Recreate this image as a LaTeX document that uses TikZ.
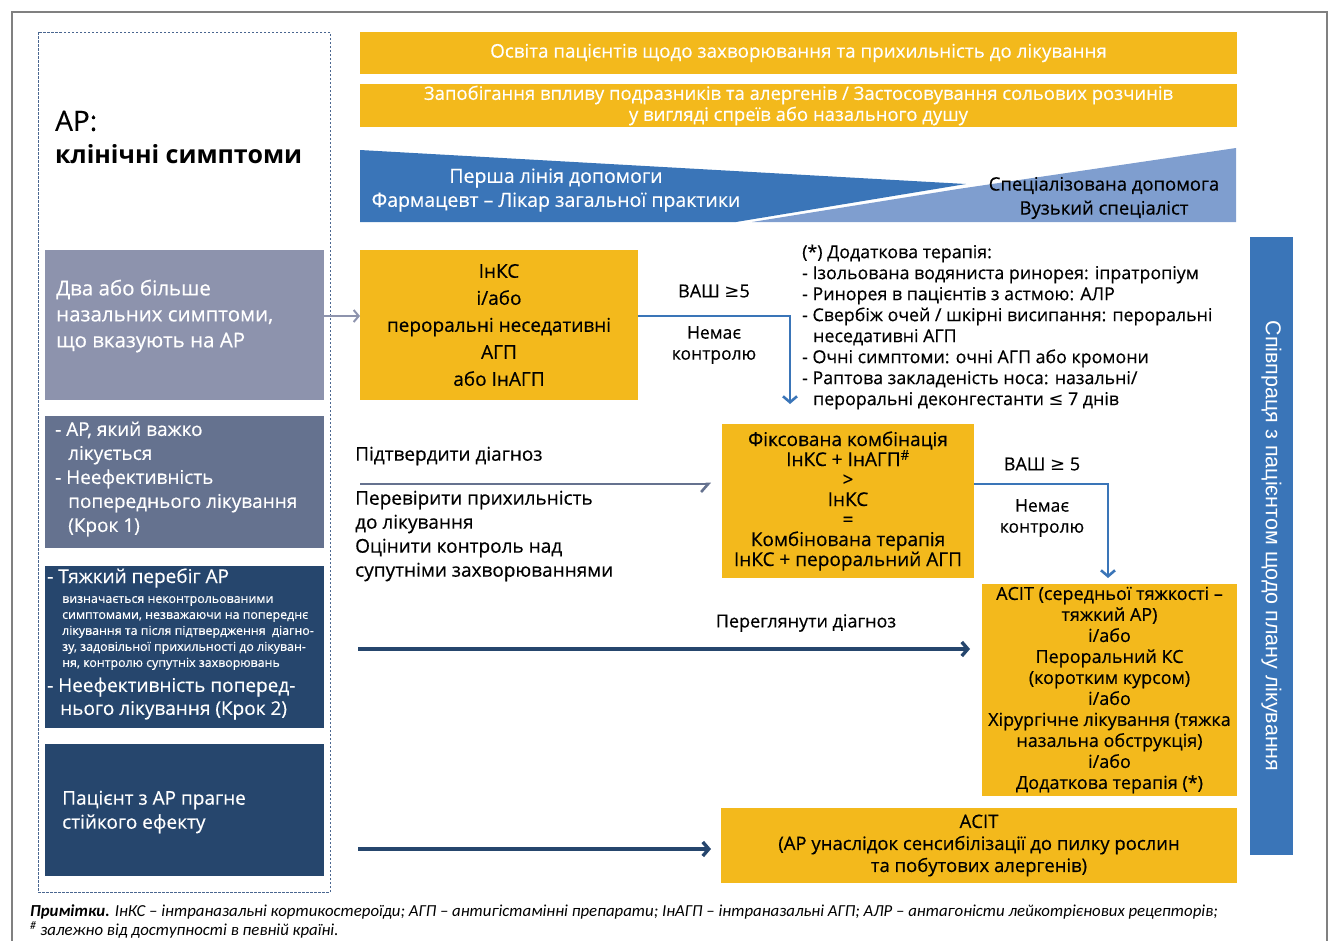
\documentclass[tikz,border=0pt]{standalone}
\usepackage{fontspec}
\setmainfont{Open Sans}[UprightFeatures={FakeBold=0.4}]
\newfontfamily\symfont{DejaVu Sans}
\newfontfamily\notefont{Carlito}
\newfontfamily\barfont{Liberation Sans}
\usetikzlibrary{arrows.meta}

\definecolor{framegray}{HTML}{808080}
\definecolor{dashblue}{HTML}{4A6690}
\definecolor{amber}{HTML}{F3B91C}
\definecolor{midblue}{HTML}{3A75B8}
\definecolor{paleblue}{HTML}{7F9ECF}
\definecolor{lavgray}{HTML}{8D93AD}
\definecolor{slate}{HTML}{65728F}
\definecolor{navy}{HTML}{26466D}

\newcommand{\fsz}[2]{\fontsize{#1}{#2}\selectfont}
\newcommand{\vge}{{\symfont ≥}}
\newcommand{\vle}{{\symfont ≤}}

\begin{document}
\begin{tikzpicture}[x=1pt,y=-1pt,
  panel/.style={anchor=north west, inner sep=0pt, outer sep=0pt},
  yelbox/.style={panel, fill=amber, align=center, text=black},
  sidetext/.style={anchor=west, inner sep=0pt, align=left, text=white},
  plain/.style={inner sep=0pt, align=center, text=black},
  chev/.style={-{Straight Barb[length=5pt,width=12pt]}},
  lavarrow/.style={chev, draw=lavgray, line width=2pt},
  bluelink/.style={-{Straight Barb[length=6pt,width=14pt]}, draw=midblue, line width=2.6pt},
  slatearrow/.style={-{Straight Barb[harpoon,swap,length=7pt,width=16pt]}, draw=slate, line width=2.6pt},
  navyarrow/.style={-{Straight Barb[length=6pt,width=14pt]}, draw=navy, line width=3.4pt},
]
\useasboundingbox (0,0) rectangle (1335,940);

% outer frame
\draw[framegray, line width=2pt] (12,960) -- (12,12) -- (1327,12) -- (1327,960);

% left dashed column
\node[panel, draw=dashblue, line width=1pt, dash pattern=on 2.5pt off 1.5pt,
      minimum width=292pt, minimum height=860pt] (column) at (38,32) {};
\node[anchor=west, inner sep=0pt, font=\fsz{28}{30}] (ttl) at (55,121) {АР:};
\node[anchor=west, inner sep=0pt, font=\fsz{25}{30}\bfseries] (ttl2) at (55,154) {клінічні симптоми};

% left boxes
\node[panel, fill=lavgray, minimum width=279pt, minimum height=150pt] (b1) at (45,250) {};
\node[sidetext, font=\fsz{20.5}{26}] (b1t) at (56,316)
  {Два або більше\\назальних симптоми,\\що вказують на АР};

\node[panel, fill=slate, minimum width=279pt, minimum height=132pt] (b2) at (45,416) {};
\node[sidetext, font=\fsz{19}{24}] (b2t) at (55,479)
  {- АР, який важко\\\hspace{13pt}лікується\\- Неефективність\\\hspace{13pt}попереднього лікування\\\hspace{13pt}(Крок 1)};

\node[panel, fill=navy, minimum width=279pt, minimum height=162pt] (b3) at (45,566) {};
\node[sidetext, font=\fsz{19}{24}] (b3a) at (47,578) {- Тяжкий перебіг АР};
\node[sidetext, font=\fsz{12.4}{16}] (b3b) at (62,633)
  {визначається неконтрольованими\\симптомами, незважаючи на попереднє\\лікування та після підтвердження\ \ діагно-\\зу, задовільної прихильності до лікуван-\\ня, контролю супутніх захворювань};
\node[sidetext, font=\fsz{19}{23}] (b3c) at (47,698.5)
  {- Неефективність поперед-\\\hspace{13pt}нього лікування (Крок 2)};

\node[panel, fill=navy, minimum width=279pt, minimum height=132pt] (b4) at (45,744) {};
\node[sidetext, font=\fsz{19}{24}] (b4t) at (62,812)
  {Пацієнт з АР прагне\\стійкого ефекту};

% top bars
\node[yelbox, text=white, font=\fsz{18.8}{21}, minimum width=877pt, minimum height=42pt] (bar1) at (360,32)
  {Освіта пацієнтів щодо захворювання та прихильність до лікування};
\node[yelbox, text=white, font=\fsz{18.5}{21}, minimum width=877pt, minimum height=43pt] (bar2) at (360,84)
  {Запобігання впливу подразників та алергенів / Застосовування сольових розчинів\\у вигляді спреїв або назального душу};

% care-level wedges
\fill[midblue] (360,150) -- (966,184) -- (736,222) -- (360,222) -- cycle;
\fill[paleblue] (1236,148) -- (1236,222) -- (752,222) -- (958,189) -- cycle;
\node[plain, text=white, font=\fsz{19.5}{24}] (first) at (556,190)
  {Перша лінія допомоги\\Фармацевт – Лікар загальної практики};
\node[plain, font=\fsz{18.5}{24}] (spec) at (1104,198)
  {Спеціалізована допомога\\Вузький спеціаліст};

% treatment boxes
\node[yelbox, font=\fsz{19}{27}, minimum width=278pt, minimum height=150pt] (y1) at (360,250)
  {ІнКС\\і/або\\пероральні неседативні\\АГП\\або ІнАГП};
\node[yelbox, font=\fsz{19}{20}, minimum width=252pt, minimum height=154pt] (y2) at (722,424)
  {Фіксована комбінація\\ІнКС + ІнАГП\textsuperscript{\#}\\>\\ІнКС\\=\\Комбінована терапія\\ІнКС + пероральний АГП};
\node[yelbox, font=\fsz{18}{21}, minimum width=255pt, minimum height=212pt] (y3) at (982,584)
  {АСІТ (середньої тяжкості –\\тяжкий АР)\\і/або\\Пероральний КС\\(коротким курсом)\\і/або\\Хірургічне лікування (тяжка\\назальна обструкція)\\і/або\\Додаткова терапія (*)};
\node[yelbox, font=\fsz{18.5}{22}, minimum width=516pt, minimum height=75pt] (y4) at (721,808)
  {АСІТ\\(АР унаслідок сенсибілізації до пилку рослин\\та побутових алергенів)};

% additional therapy list
\node[anchor=west, inner sep=0pt, align=left, font=\fsz{17.8}{21}] (extra) at (802,327)
  {(*) Додаткова терапія:\\- Ізольована водяниста ринорея: іпратропіум\\- Ринорея в пацієнтів з астмою: АЛР\\- Свербіж очей / шкірні висипання: пероральні\\\hspace{11pt}неседативні АГП\\- Очні симптоми: очні АГП або кромони\\- Раптова закладеність носа: назальні/\\\hspace{11pt}пероральні деконгестанти \vle\ 7 днів};

% patient cooperation bar
\node[panel, fill=midblue, minimum width=43pt, minimum height=618pt] (coop) at (1250,237) {};
\node[rotate=-90, inner sep=0pt, text=white, font=\barfont\fsz{21.5}{22}] (coopt) at (coop.center)
  {Співпраця з пацієнтом щодо плану лікування};

% step 1 connectors
\draw[lavarrow] ([yshift=9pt]b1.east) -- ([yshift=9pt]y1.west);
\coordinate (drop1) at (790,404);
\draw[bluelink] ([yshift=9pt]y1.east) -| (drop1);
\node[plain, font=\fsz{18}{21}] (vas1) at (714,291) {ВАШ \vge5};
\node[plain, font=\fsz{17.5}{21}] (nc1) at (714,345) {Немає\\контролю};

% step 2 connectors
\coordinate (s2) at (360,484);
\draw[slatearrow, shorten >=11pt] (s2) -- (s2 -| y2.west);
\node[anchor=west, inner sep=0pt, font=\fsz{19}{24}] (confirm) at (355,456) {Підтвердити діагноз};
\node[anchor=west, inner sep=0pt, align=left, font=\fsz{19}{24}] (check) at (355,536)
  {Перевірити прихильність\\до лікування\\Оцінити контроль над\\супутніми захворюваннями};
\draw[bluelink] ([yshift=17pt]y2.east) -| ([xshift=-1.5pt,yshift=6pt]y3.north);
\node[plain, font=\fsz{18}{21}] (vas2) at (1042,464) {ВАШ \vge\ 5};
\node[plain, font=\fsz{17.5}{21}] (nc2) at (1042,518) {Немає\\контролю};

% step 3 and 4 connectors
\coordinate (s3) at (358,649);
\draw[navyarrow, shorten >=12pt] (s3) -- (s3 -| y3.west);
\node[plain, font=\fsz{18}{21}] (review) at (806,623) {Переглянути діагноз};
\coordinate (s4) at (358,849);
\draw[navyarrow, shorten >=10pt] (s4) -- (s4 -| y4.west);

% notes
\node[anchor=west, inner sep=0pt, font=\notefont\itshape\fsz{16.8}{18}] (note1) at (30,912)
  {\textbf{Примітки.} ІнКС – інтраназальні кортикостероїди; АГП – антигістамінні препарати; ІнАГП – інтраназальні АГП; АЛР – антагоністи лейкотрієнових рецепторів;};
\node[anchor=west, inner sep=0pt, font=\notefont\itshape\fsz{16.8}{18}] (note2) at (30,930)
  {\textsuperscript{\#} залежно від доступності в певній країні.};
\end{tikzpicture}
\end{document}
